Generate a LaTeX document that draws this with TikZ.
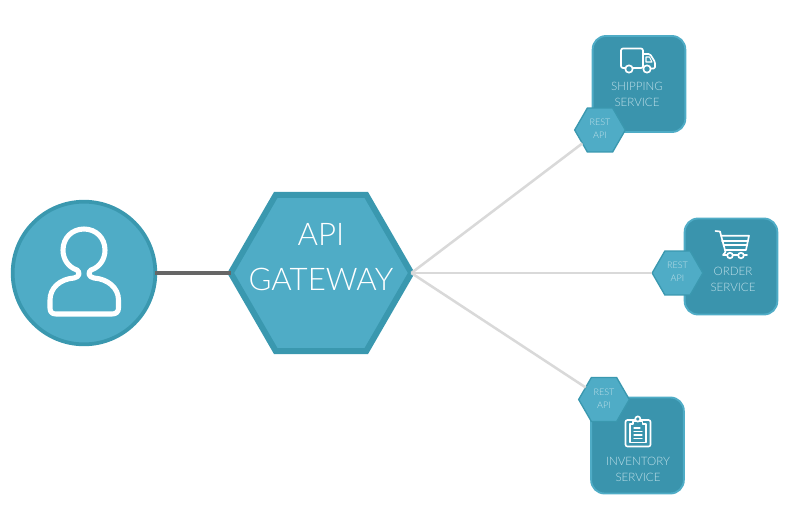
\documentclass[tikz,border=0pt]{standalone}
\usepackage{fontspec}
\setmainfont{Lato}[UprightFont=* Light]
\usepackage{tikz}
\usetikzlibrary{arrows.meta, positioning, shapes.geometric}
\definecolor{mTeal}{HTML}{4FACC6}
\definecolor{mDeepTeal}{HTML}{3A98AF}
\definecolor{mBoxTeal}{HTML}{3A94AD}
\definecolor{mPaleText}{HTML}{BFE0E9}

\begin{document}
\begin{tikzpicture}[x=0.75pt, y=-0.75pt,
    hexbox/.style={regular polygon, regular polygon sides=6, inner sep=0pt, outer sep=0pt, fill=mTeal, draw=mDeepTeal},
    servicebox/.style={rectangle, rounded corners=10pt, minimum width=69.5pt, minimum height=72pt, outer sep=0pt, fill=mBoxTeal, draw=mTeal, line width=1.4pt},
    servicetext/.style={text=mPaleText, align=center, font=\fontsize{8.7}{12}\selectfont},
    resttext/.style={text=mPaleText, align=center, font=\fontsize{6.8}{10}\selectfont},
    iconline/.style={draw=white, line width=1.25pt, line join=round, line cap=round},
    wire/.style={draw=black!15, line width=1.9pt}]
    \useasboundingbox (0,0) rectangle (789,512);

    \node[circle, minimum size=107pt, inner sep=0pt, outer sep=0pt, fill=mTeal, draw=mDeepTeal, line width=2.8pt] (user) at (84,273) {};
    \node[hexbox, minimum size=135.5pt, line width=4.5pt] (gateway) at (321,273) {};
    \node[text=white, align=center, font=\fontsize{23.4}{33.5}\selectfont] (gatewaylabel) at (321,257) {API\\GATEWAY};

    \draw[line width=2.8pt, draw=black!60] (user) -- (gateway.west);

    \foreach \name/\bx/\by/\tx/\ty/\hx/\hy/\txt in {
      shipping/639/84/637/94/600/130/SHIPPING,
      order/731/266.5/733/279/677.5/273/ORDER,
      inventory/637.5/445.5/638/469/604/399.5/INVENTORY} {
      \node[servicebox] (\name) at (\bx,\by) {};
      \node[servicetext] (\name label) at (\tx,\ty) {\txt\\SERVICE};
      \node[hexbox, minimum size=38pt, line width=1pt] (\name api) at (\hx,\hy) {};
      \node[resttext] (\name rest) at (\hx,\hy-1) {REST\\API};
      \draw[wire] (gateway.east) -- (\name api);
    }

    % user
    \draw[iconline, line width=3.8pt] (77,270) .. controls (68,267) and (63,259) .. (63,250)
      .. controls (63,238) and (72,229) .. (84,229) .. controls (96,229) and (105,238) .. (105,250)
      .. controls (105,259) and (100,267) .. (91,270) .. controls (88,272) and (88,277) .. (94,278)
      .. controls (108,279) and (118.5,288) .. (118.5,300) -- (118.5,308)
      .. controls (118.5,312) and (116,314) .. (112,314) -- (56,314)
      .. controls (52,314) and (50,312) .. (50,308) -- (50,300)
      .. controls (50,288) and (60,279) .. (74,278) .. controls (80,277) and (80,272) .. (77,270) -- cycle;

    % truck
    \draw[iconline, rounded corners=1.5pt] (625.5,68) -- (621,68) -- (621,48.5) -- (643,48.5) -- (643,68) -- (633,68);
    \draw[iconline, rounded corners=1pt] (643,54) -- (650,54) -- (655,62) -- (655,68.5) -- (651,68.5);
    \draw[iconline, line width=0.8pt] (646,57) -- (649.5,57) -- (652,62) -- (646,62) -- cycle;
    \draw[iconline] (629,69) circle (3.7);
    \draw[iconline] (647,69) circle (3.7);

    % cart
    \draw[iconline] (715.5,231) -- (720,231.5) -- (725.5,252) -- (723,255) -- (747,255);
    \draw[iconline] (721,235.7) -- (749,235.7) -- (746,250) -- (725,250);
    \draw[iconline] (722,240.7) -- (748,240.7);
    \draw[iconline] (723.5,245.3) -- (747,245.3);
    \draw[iconline, fill=mBoxTeal] (730,255.5) circle (2.8);
    \draw[iconline, fill=mBoxTeal] (741,255.5) circle (2.8);

    % clipboard
    \draw[iconline, rounded corners=1.5pt] (625.5,420) rectangle (650.5,446.5);
    \draw[iconline, fill=mBoxTeal] (630,424) -- (633,424) -- (633,421.5) -- (642.5,421.5) -- (642.5,424) -- (646,424) -- (646,442.5) -- (630,442.5) -- cycle;
    \draw[iconline, fill=mBoxTeal] (637.8,419) circle (2.6);
    \foreach \ly/\lx in {428/640, 431.5/642, 435/642, 438.5/642} {
      \draw[iconline, line width=0.9pt] (634,\ly) -- (\lx,\ly);
    }
\end{tikzpicture}
\end{document}
